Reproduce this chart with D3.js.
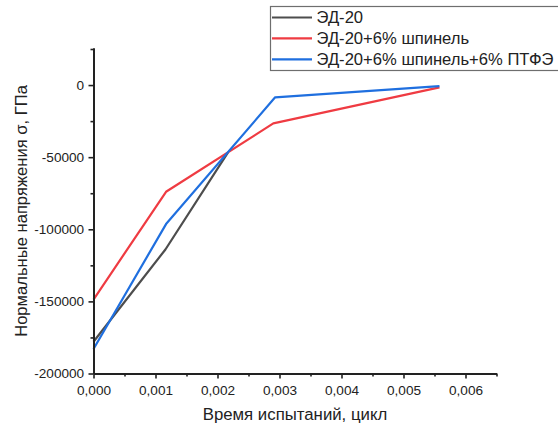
<!DOCTYPE html>
<html>
<head>
<meta charset="utf-8">
<script src="https://cdn.jsdelivr.net/npm/d3@7"></script>
<style>
  html, body { margin: 0; padding: 0; background: #fff; }
  svg { display: block; font-family: "Liberation Sans", Arial, sans-serif; }
</style>
</head>
<body>
<svg id="chart" width="558" height="425"></svg>
<script>
// Series: test time (cycles) vs normal stress σ, GPa
const seriesNames = ["ЭД-20", "ЭД-20+6% шпинель", "ЭД-20+6% шпинель+6% ПТФЭ"];
const seriesColors = ["#4d4d4d", "#ef3b42", "#1f6fdf"];
const timeEd20 = [0, 0.00116, 0.00217];
const stressEd20 = [-178000, -114000, -46700];
const timeSpinel = [0, 0.00117, 0.0029, 0.00558];
const stressSpinel = [-148700, -74000, -26600, -1600];
const timePtfe = [0, 0.00117, 0.00293, 0.00558];
const stressPtfe = [-183000, -96400, -8500, -700];
const xTicks = [0, 0.001, 0.002, 0.003, 0.004, 0.005, 0.006];
const yTicks = [0, -50000, -100000, -150000, -200000];

const svg = d3.select("#chart");
const plotLeft = 93.5, plotRight = 496.5, plotTop = 48, plotBottom = 373.5;

const x = d3.scaleLinear().domain([0, 0.0065]).range([plotLeft, plotRight]);
const y = d3.scaleLinear().domain([-200000, 25700]).range([plotBottom, plotTop]);

const fmtX = d => d3.format(".3f")(d).replace(".", ",");

// Lines
const series = [
  { t: timeEd20, s: stressEd20 },
  { t: timeSpinel, s: stressSpinel },
  { t: timePtfe, s: stressPtfe }
];
const line = d3.line().x(d => x(d[0])).y(d => y(d[1]));
series.forEach((ser, i) => {
  svg.append("path")
    .datum(ser.t.map((t, k) => [t, ser.s[k]]))
    .attr("d", line)
    .attr("fill", "none")
    .attr("stroke", seriesColors[i])
    .attr("stroke-width", 2.2)
    .attr("stroke-linejoin", "round");
});

// Axes
const xAxis = svg.append("g").attr("transform", `translate(0,${plotBottom})`)
  .call(d3.axisBottom(x).tickValues(xTicks).tickFormat(fmtX).tickSize(5).tickSizeOuter(0));
const xMinor = svg.append("g").attr("transform", `translate(0,${plotBottom})`)
  .call(d3.axisBottom(x).tickValues(d3.range(0.0005, 0.0066, 0.001)).tickFormat("").tickSize(3).tickSizeOuter(0));
const yAxis = svg.append("g").attr("transform", `translate(${plotLeft},0)`)
  .call(d3.axisLeft(y).tickValues(yTicks).tickFormat(d => String(d)).tickSize(5).tickSizeOuter(0));
const yMinor = svg.append("g").attr("transform", `translate(${plotLeft},0)`)
  .call(d3.axisLeft(y).tickValues([-25000, -75000, -125000, -175000, 25000]).tickFormat("").tickSize(3).tickSizeOuter(0));

[xAxis, xMinor, yAxis, yMinor].forEach(g => {
  g.selectAll(".domain").attr("stroke", "#222").attr("stroke-width", 2);
  g.selectAll(".tick line").attr("stroke", "#222").attr("stroke-width", 1.6);
  g.selectAll("text").attr("font-size", 13.6).attr("fill", "#222")
    .attr("font-family", "'Liberation Sans', Arial, sans-serif");
});
xAxis.selectAll("text").attr("dy", "1.0em");
yAxis.selectAll("text").attr("dx", "-0.1em");

// Axis titles
svg.append("text")
  .attr("x", 295).attr("y", 420)
  .attr("text-anchor", "middle").attr("font-size", 16.8).attr("fill", "#222")
  .text("Время испытаний, цикл");
svg.append("text")
  .attr("transform", "translate(26.5,211) rotate(-90)")
  .attr("text-anchor", "middle").attr("font-size", 16.6).attr("fill", "#222")
  .text("Нормальные напряжения σ, ГПа");

// Legend
const legend = svg.append("g");
legend.append("rect")
  .attr("x", 270.5).attr("y", 6.5).attr("width", 300).attr("height", 64)
  .attr("fill", "#fff").attr("stroke", "#6e6e6e").attr("stroke-width", 1.2);
seriesNames.forEach((name, i) => {
  const yy = 17.5 + i * 20.9;
  legend.append("line")
    .attr("x1", 272).attr("x2", 312).attr("y1", yy).attr("y2", yy)
    .attr("stroke", seriesColors[i]).attr("stroke-width", 2.2);
  legend.append("text")
    .attr("x", 316.5).attr("y", yy).attr("dy", "0.36em")
    .attr("font-size", 16.6).attr("fill", "#222")
    .text(name);
});
</script>
</body>
</html>
